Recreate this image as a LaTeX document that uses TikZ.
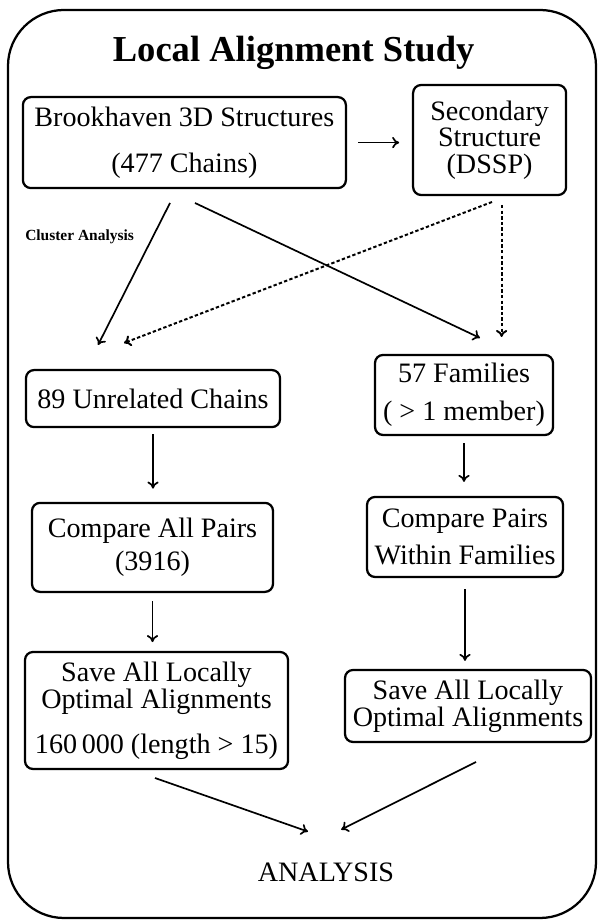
\documentclass[tikz,border=0pt]{standalone}
\usepackage{fontspec}
\setmainfont{Liberation Serif}
\usetikzlibrary{arrows.meta}

\begin{document}
\begin{tikzpicture}[
    box/.style={draw, line width=1.6pt, rounded corners=0.2cm, align=center,
                inner sep=0pt, font=\fontsize{20}{19}\selectfont},
    arr/.style={line width=1.2pt, -{To[length=5pt,width=8pt]}},
    dotarr/.style={line width=1.4pt, dash pattern=on 2.4pt off 1.6pt,
                   -{To[length=5pt,width=8pt]}}
]
\useasboundingbox (0,0) rectangle (15,23.075);

% === Frame and title ===
\draw[line width=1.6pt, rounded corners=1.4cm] (0.2,0.125) rectangle (14.9,22.825);
\node (title) at (7.34,21.75) {\fontsize{26}{30}\selectfont\bfseries Local Alignment Study};

% === Top row ===
\node[box, minimum width=8.075cm, minimum height=2.275cm] (brook) at (4.61,19.51)
  {Brookhaven 3D Structures\\[14pt](477 Chains)};
\node[box, minimum width=3.825cm, minimum height=2.75cm] (second) at (12.24,19.575)
  {Secondary\\Structure\\(DSSP)};

\draw[arr, shorten <=0.28cm, shorten >=0.32cm] (brook.east) -- (brook.east -| second.west);

% Cluster Analysis label
\node (cluster) at (1.99,17.15) {\fontsize{11}{12}\selectfont\bfseries Cluster Analysis};

% === Middle row ===
\node[box, minimum width=6.35cm, minimum height=1.425cm] (unrel) at (3.825,13.11)
  {89 Unrelated Chains};
\node[box, minimum width=4.45cm, minimum height=2.0cm] (fam) at (11.6,13.2)
  {57 Families\\[8pt]( > 1 member)};

% crossing connectors
\coordinate (a1s) at (4.25,18.0);
\coordinate (a1e) at (2.45,14.45);
\coordinate (a2s) at (4.875,18.0);
\coordinate (a2e) at (12.0,14.625);
\coordinate (d1s) at (12.3,18.025);
\coordinate (d1e) at (3.1,14.5);
\coordinate (d2s) at (12.54,17.95);
\coordinate (d2e) at (12.54,14.65);

\draw[arr] (a1s) -- (a1e);
\draw[arr] (a2s) -- (a2e);
\draw[dotarr] (d1s) -- (d1e);
\draw[dotarr] (d2s) -- (d2e);

% === Compare row ===
\node[box, minimum width=6.025cm, minimum height=2.225cm] (cmpall) at (3.8125,9.39)
  {Compare All Pairs\\[4pt](3916)};
\node[box, minimum width=4.9cm, minimum height=2.0cm] (cmpfam) at (11.625,9.65)
  {Compare Pairs\\[7pt]Within Families};

\draw[arr, shorten <=0.15cm, shorten >=0.33cm] (unrel.south) -- (unrel.south |- cmpall.north);
\draw[arr, shorten <=0.18cm, shorten >=0.35cm] (fam.south) -- (fam.south |- cmpfam.north);

% === Save row ===
\node[box, minimum width=6.575cm, minimum height=2.925cm] (saveall) at (3.9125,5.3125)
  {Save All Locally\\Optimal Alignments\\[13pt]160\,000 (length > 15)};
\node[box, minimum width=6.15cm, minimum height=1.8cm] (savefam) at (11.7,5.425)
  {Save All Locally\\Optimal Alignments};

\draw[arr, shorten <=0.2cm, shorten >=0.22cm] (cmpall.south) -- (cmpall.south |- saveall.north);
\draw[arr, shorten <=0.28cm, shorten >=0.2cm] (cmpfam.south) -- (cmpfam.south |- savefam.north);

% === Analysis ===
\node[font=\fontsize{20}{24}\selectfont] (analysis) at (8.15,1.275) {ANALYSIS};

\coordinate (b1s) at (3.875,3.625);
\coordinate (b2s) at (11.9,4.025);
\draw[arr] (b1s) -- ([xshift=-0.45cm,yshift=0.65cm]analysis.north);
\draw[arr] (b2s) -- ([xshift=0.38cm,yshift=0.7cm]analysis.north);

\end{tikzpicture}
\end{document}
